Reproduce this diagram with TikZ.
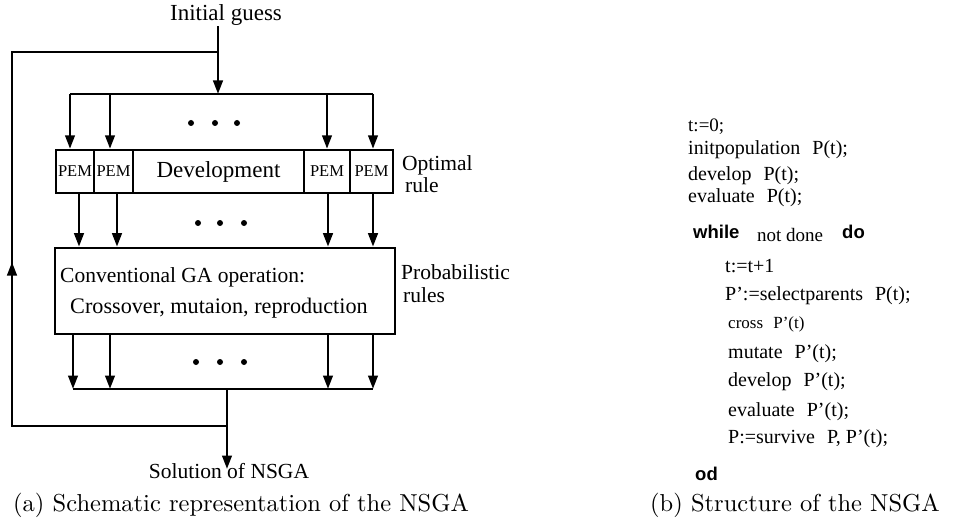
\documentclass[tikz,border=0pt]{standalone}
\usepackage{fontspec}
\setmainfont{Liberation Serif}
\newfontfamily\kwfont{Liberation Sans}
\newfontfamily\capfont{lmroman10-regular.otf}
\usetikzlibrary{arrows.meta}

\begin{document}
\begin{tikzpicture}[x=1pt,y=-1pt,
  wire/.style={line width=2.6pt},
  flow/.style={wire,-{Triangle[length=13.5pt,width=9.5pt]}},
  cell/.style={draw,line width=2.4pt,inner sep=0pt,minimum height=43pt,
    font=\fontsize{16.5}{18}\selectfont},
  lbl/.style={inner sep=0pt,font=\fontsize{21.5}{25}\selectfont},
  code/.style={inner sep=0pt,anchor=base west,font=\fontsize{20}{22}\selectfont},
  kw/.style={inner sep=0pt,anchor=base west,font=\kwfont\bfseries\fontsize{18.5}{22}\selectfont},
  caption/.style={inner sep=0pt,anchor=base west,font=\capfont\fontsize{24.5}{28}\selectfont},
  dot/.style={fill=black}
]
\useasboundingbox (0,0) rectangle (959,532);

% ---------------- (a) schematic ----------------
\node[lbl,anchor=base,font=\fontsize{23}{26}\selectfont] (init) at (226,21) {Initial guess};

\coordinate (split) at (218,52);
\coordinate (dist)  at (218,94);
\coordinate (busL)  at (70,94);
\coordinate (busLi) at (110,94);
\coordinate (busRi) at (327,94);
\coordinate (busR)  at (373,94);

% PEM row with the development block
\node[cell,minimum width=38pt]  (p1)  at (75,171.5)    {PEM};
\node[cell,minimum width=39pt]  (p2)  at (113.5,171.5) {PEM};
\node[cell,minimum width=171pt,font=\fontsize{23}{26}\selectfont] (dev) at (218.5,171.5) {Development};
\node[cell,minimum width=46pt]  (p3)  at (327,171.5)   {PEM};
\node[cell,minimum width=43pt]  (p4)  at (371.5,171.5) {PEM};

\node[lbl,anchor=base west] (opt)  at (402,171) {Optimal};
\node[lbl,anchor=base west] (rule) at (405,193) {rule};

% GA operator block
\node[draw,line width=2.6pt,minimum width=340pt,minimum height=86pt,inner sep=0pt] (ga) at (225,291) {};
\node[lbl,anchor=base west] (ga1) at (60,282) {Conventional GA operation:};
\node[lbl,anchor=base west,font=\fontsize{22.2}{25}\selectfont] (ga2) at (70,313) {Crossover, mutaion, reproduction};

\node[lbl,anchor=base west] (prob)  at (401,279) {Probabilistic};
\node[lbl,anchor=base west] (rules) at (403,302) {rules};

% collector bus and output
\coordinate (colL)  at (73,389);
\coordinate (colLi) at (110,389);
\coordinate (colRi) at (328,389);
\coordinate (colR)  at (373,389);
\coordinate (out)   at (227,389);
\coordinate (fb)    at (227,426);
\coordinate (fbL)   at (12,426);
\coordinate (fbMid) at (12,262);
\coordinate (fbT)   at (12,52);
\coordinate (soltip) at (227,469);

\node[lbl,anchor=base] (sol) at (229,478) {Solution of NSGA};

% input and distribution
\draw[flow] (init.south -| split) -- (dist);
\draw[wire] (busL) -- (busR);
\draw[flow] (busL)  -- (busL  |- p1.north);
\draw[flow] (busLi) -- (busLi |- p2.north);
\draw[flow] (busRi) -- (busRi |- p3.north);
\draw[flow] (busR)  -- (busR  |- p4.north);

% development to GA block
\draw[flow] ([xshift=4pt]p1.south)   -- ([xshift=4pt]p1.south |- ga.north);
\draw[flow] ([xshift=3.5pt]p2.south) -- ([xshift=3.5pt]p2.south |- ga.north);
\draw[flow] ([xshift=1pt]p3.south)   -- ([xshift=1pt]p3.south |- ga.north);
\draw[flow] ([xshift=1.5pt]p4.south) -- ([xshift=1.5pt]p4.south |- ga.north);

% GA block to collector
\draw[flow] (colL  |- ga.south) -- (colL);
\draw[flow] (colLi |- ga.south) -- (colLi);
\draw[flow] (colRi |- ga.south) -- (colRi);
\draw[flow] (colR  |- ga.south) -- (colR);
\draw[wire] (colL) -- (colR);
\draw[flow] (out) -- (soltip);

% feedback loop
\draw[wire] (fb) -- (fbL) -- (fbT) -- (split);
\draw[flow] (fbL) -- (fbMid);

% ellipses
\foreach \x in {191,215,237} \fill[dot] (\x,123) circle (3pt);
\foreach \x in {198,220,244} \fill[dot] (\x,223) circle (3pt);
\foreach \x in {196,220,244} \fill[dot] (\x,362) circle (3pt);

\node[caption] (capa) at (13,511) {(a) Schematic representation of the NSGA};

% ---------------- (b) algorithm structure ----------------
\node[code,font=\fontsize{19}{22}\selectfont] (l1) at (688,132) {t:=0;};
\node[code] (l2) at (688,155) {initpopulation\hspace{0.6em}P(t);};
\node[code] (l3) at (688,181) {develop\hspace{0.6em}P(t);};
\node[code] (l4) at (688,203) {evaluate\hspace{0.6em}P(t);};
\node[kw]   (l5a) at (693,238) {while};
\node[code,font=\fontsize{19}{22}\selectfont] (l5b) at (757,241) {not done};
\node[kw]   (l5c) at (842,238) {do};
\node[code] (l6) at (725,272) {t:=t+1};
\node[code] (l7) at (725,300) {P':=selectparents\hspace{0.6em}P(t);};
\node[code,font=\fontsize{17}{20}\selectfont] (l8) at (728,328) {cross\hspace{0.6em}P'(t)};
\node[code] (l9)  at (728,358) {mutate\hspace{0.6em}P'(t);};
\node[code] (l10) at (728,386) {develop\hspace{0.6em}P'(t);};
\node[code] (l11) at (728,416) {evaluate\hspace{0.6em}P'(t);};
\node[code] (l12) at (728,443) {P:=survive\hspace{0.6em}P, P'(t);};
\node[kw]   (l13) at (695,480) {od};

\node[caption] (capb) at (650,511) {(b) Structure of the NSGA};
\end{tikzpicture}
\end{document}
